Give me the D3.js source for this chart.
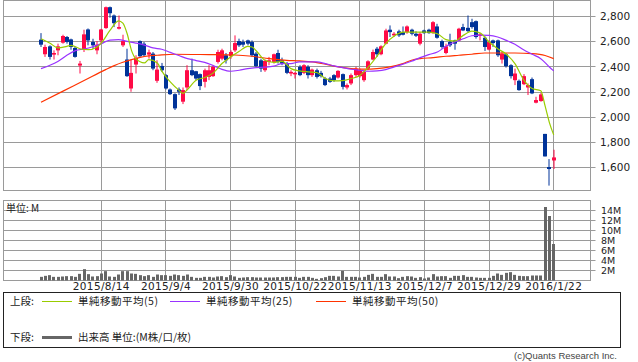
<!DOCTYPE html>
<html>
<head>
<meta charset="utf-8">
<script src="https://cdn.jsdelivr.net/npm/d3@7"></script>
<style>
  body { margin: 0; background: #fff; }
  svg text { font-family: "DejaVu Sans", sans-serif; fill: #222; }
  .jp { font-family: "Noto Sans CJK JP", sans-serif; }
</style>
</head>
<body>
<script>
// daily candles, 2015/7/27 .. 2016/1/22 (120 trading days)
var open = [2616,2500,2563,2497,2531,2592,2637,2618,2550,2410,2537,2697,2597,2531,2610,2708,2874,2808,2703,2571,
  2458,2228,2418,2605,2584,2497,2505,2289,2407,2334,2220,2183,2220,2123,2236,2373,2365,2342,2281,2320,
  2326,2439,2465,2492,2484,2531,2605,2597,2610,2597,2505,2452,2373,2439,2439,2510,2452,2421,2347,2342,
  2400,2352,2400,2334,2373,2352,2307,2307,2334,2315,2342,2236,2268,2334,2326,2294,2386,2458,2544,2500,
  2584,2695,2650,2682,2676,2676,2695,2663,2584,2689,2695,2668,2721,2605,2510,2597,2610,2610,2716,2710,
  2755,2763,2650,2631,2537,2610,2610,2458,2500,2413,2294,2289,2262,2236,2302,2115,2128,1867,1604,1656];
var high = [2668,2576,2571,2531,2584,2655,2645,2624,2563,2447,2695,2705,2623,2605,2702,2879,2879,2816,2808,2655,
  2544,2457,2492,2610,2597,2537,2518,2452,2431,2342,2228,2189,2236,2236,2413,2465,2368,2347,2386,2413,
  2413,2536,2544,2510,2531,2650,2624,2616,2616,2610,2518,2465,2458,2479,2505,2536,2473,2439,2373,2360,
  2413,2421,2413,2386,2386,2368,2320,2320,2342,2373,2347,2268,2347,2400,2386,2373,2452,2537,2558,2571,
  2703,2729,2676,2695,2721,2729,2703,2682,2676,2695,2703,2763,2742,2616,2584,2663,2616,2710,2742,2808,
  2782,2768,2668,2642,2610,2616,2616,2518,2510,2421,2386,2299,2342,2268,2315,2162,2194,1867,1667,1741];
var low = [2558,2479,2458,2458,2492,2584,2584,2536,2473,2347,2518,2571,2544,2500,2584,2702,2790,2716,2697,2558,
  2320,2202,2347,2479,2479,2465,2373,2273,2360,2220,2176,2057,2176,2104,2215,2326,2294,2215,2236,2294,
  2320,2426,2452,2426,2465,2518,2558,2558,2571,2479,2400,2360,2360,2413,2426,2426,2413,2342,2326,2307,
  2326,2342,2307,2320,2307,2315,2247,2273,2281,2307,2220,2220,2255,2320,2315,2281,2373,2452,2479,2492,
  2579,2637,2637,2637,2650,2663,2650,2637,2571,2663,2663,2663,2624,2544,2500,2558,2536,2605,2684,2676,
  2703,2624,2610,2526,2531,2558,2479,2426,2394,2307,2255,2210,2255,2176,2183,2110,2123,1688,1456,1588];
var close = [2576,2558,2479,2510,2563,2645,2597,2558,2479,2426,2658,2610,2571,2576,2697,2874,2826,2747,2716,2605,
  2326,2352,2471,2484,2492,2515,2386,2378,2373,2228,2183,2070,2202,2215,2373,2334,2307,2247,2373,2373,
  2400,2518,2531,2452,2518,2589,2571,2576,2584,2492,2405,2386,2447,2452,2500,2439,2426,2352,2360,2352,
  2334,2413,2334,2378,2320,2326,2255,2281,2294,2368,2241,2255,2334,2386,2373,2360,2444,2518,2500,2563,
  2689,2676,2663,2650,2655,2721,2663,2647,2663,2668,2668,2755,2631,2558,2563,2571,2584,2703,2689,2684,
  2716,2637,2658,2558,2597,2589,2492,2505,2405,2326,2347,2215,2326,2255,2189,2136,2181,1688,1588,1680];

// volume, millions
var volume = [0.73,0.93,1.07,0.73,0.73,0.8,0.87,0.87,0.73,1.33,2.27,1.27,0.8,0.87,1.4,1.87,0.8,0.73,1.2,1.87,
  1.87,1.4,1.33,1.07,0.87,1.07,0.73,1.2,1.07,1.07,0.93,1.2,1.07,0.93,1.2,0.73,0.53,0.53,0.73,0.73,
  0.6,0.8,0.87,0.67,1.07,0.8,0.53,0.6,0.67,0.67,0.6,0.6,0.6,0.6,0.6,0.67,0.67,0.73,0.73,0.73,
  0.53,0.73,0.73,0.53,0.33,0.47,0.67,0.93,0.93,0.8,1.93,0.73,0.73,0.73,0.6,0.73,1.13,1.33,0.73,0.73,
  1.27,0.8,0.8,0.47,0.73,0.87,0.8,0.53,0.67,0.4,0.6,1.27,0.8,0.87,0.87,0.53,0.93,0.93,1.07,0.73,
  0.73,0.6,0.53,0.53,0.53,0.93,1.4,1.13,1.53,1.67,1.13,0.93,0.87,0.87,1.0,1.0,1.0,14.7,12.9,7.3];

// moving averages: [day index, value]
var ma5 = [[0,2623],[2,2589],[4,2550],[6,2563],[7,2571],[9,2544],[11,2536],[13,2558],[14,2589],[16,2689],
  [18,2766],[19,2747],[20,2663],[21,2531],[22,2465],[24,2431],[25,2457],[27,2431],[28,2368],[30,2281],
  [32,2215],[33,2189],[34,2220],[36,2294],[38,2315],[40,2352],[42,2426],[44,2479],[46,2523],[48,2563],
  [49,2558],[50,2526],[52,2452],[54,2436],[56,2444],[58,2386],[60,2368],[62,2360],[64,2355],[66,2307],
  [68,2289],[70,2291],[72,2307],[74,2331],[76,2400],[78,2484],[80,2585],[82,2645],[84,2676],[86,2676],
  [88,2676],[90,2676],[92,2663],[94,2616],[96,2605],[98,2650],[100,2684],[102,2668],[104,2597],[106,2544],
  [108,2500],[110,2426],[112,2299],[114,2228],[116,2210],[117,2089],[118,1957],[119,1859]];
var ma25 = [[0,2386],[4,2445],[6,2492],[8,2529],[10,2542],[12,2560],[14,2584],[16,2613],[18,2616],[20,2602],
  [22,2589],[24,2573],[26,2550],[28,2540],[30,2515],[32,2490],[34,2465],[36,2450],[38,2435],[40,2410],
  [42,2380],[44,2365],[46,2373],[48,2386],[50,2394],[52,2397],[54,2405],[56,2426],[58,2426],[60,2439],
  [62,2439],[64,2439],[66,2426],[68,2407],[70,2394],[72,2381],[74,2373],[76,2365],[78,2368],[80,2378],
  [82,2400],[84,2421],[86,2444],[88,2473],[90,2497],[92,2518],[94,2563],[96,2597],[98,2623],[100,2647],
  [102,2652],[104,2650],[106,2637],[108,2610],[110,2579],[112,2536],[114,2500],[116,2465],[118,2399],[119,2368]];
var ma50 = [[0,2118],[5,2205],[10,2291],[15,2378],[17,2410],[19,2436],[21,2457],[23,2475],[25,2487],[27,2492],
  [31,2500],[39,2497],[45,2494],[49,2484],[53,2465],[57,2452],[60,2447],[63,2439],[66,2421],[69,2400],
  [72,2386],[75,2381],[78,2386],[81,2400],[84,2426],[86,2452],[88,2465],[91,2473],[94,2484],[97,2492],
  [100,2500],[103,2510],[110,2510],[114,2505],[117,2490],[119,2465]];

var dateTickIdx = [14, 29, 44, 59, 74, 89, 104, 119];
var dateLabels = ["2015/8/14", "2015/9/4", "2015/9/30", "2015/10/22", "2015/11/13", "2015/12/7", "2015/12/29", "2016/1/22"];
var priceTicks = [1600, 1800, 2000, 2200, 2400, 2600, 2800];
var volTicks = [2, 4, 6, 8, 10, 12, 14];

var upColor = "#ff0a46", downColor = "#003399", gridColor = "#9a9a9a";

var svg = d3.select("body").append("svg")
    .attr("width", 638)
    .attr("height", 362);

// frames
var left = 3.5, right = 590.5;
var top1 = 0.5, bot1 = 190.5, top2 = 200.5, bot2 = 280.5;

var x = d3.scaleLinear().domain([0, 119]).range([41, 553.7]);
var y = d3.scaleLinear().domain([1600, 2800]).range([167.5, 16.5]);
var yv = d3.scaleLinear().domain([0, 16]).range([bot2, top2]);

var snap = function (v) { return Math.round(v - 0.5) + 0.5; };

// grid lines for both panels
var grid = svg.append("g").attr("stroke", gridColor).attr("stroke-width", 1).attr("fill", "none");
grid.selectAll(".hp").data(priceTicks).enter().append("line")
    .attr("x1", left).attr("x2", right + 5)
    .attr("y1", function (d) { return snap(y(d)); })
    .attr("y2", function (d) { return snap(y(d)); });
grid.selectAll(".hv").data(volTicks).enter().append("line")
    .attr("x1", left).attr("x2", right + 5)
    .attr("y1", function (d) { return snap(yv(d)); })
    .attr("y2", function (d) { return snap(yv(d)); });
dateTickIdx.forEach(function (d) {
    grid.append("line").attr("x1", snap(x(d))).attr("x2", snap(x(d))).attr("y1", top1).attr("y2", bot1);
    grid.append("line").attr("x1", snap(x(d))).attr("x2", snap(x(d))).attr("y1", top2).attr("y2", bot2);
});
grid.append("rect").attr("x", left).attr("y", top1).attr("width", right - left).attr("height", bot1 - top1);
grid.append("rect").attr("x", left).attr("y", top2).attr("width", right - left).attr("height", bot2 - top2);

// price axis labels
svg.selectAll(".pl").data(priceTicks).enter().append("text")
    .attr("x", 600).attr("y", function (d) { return y(d); })
    .attr("dy", "0.36em")
    .style("font-size", "10.5px")
    .text(d3.format(","));

// volume axis labels
svg.selectAll(".vl").data(volTicks).enter().append("text")
    .attr("x", 601).attr("y", function (d) { return yv(d); })
    .attr("dy", "0.36em")
    .style("font-size", "9.5px")
    .text(function (d) { return d + "M"; });

// date labels
svg.selectAll(".dl").data(dateTickIdx).enter().append("text")
    .attr("x", function (d) { return x(d); })
    .attr("y", 290)
    .attr("text-anchor", "middle")
    .style("font-size", "10.5px")
    .style("letter-spacing", "0.35px")
    .text(function (d, i) { return dateLabels[i]; });

svg.append("text").attr("class", "jp")
    .attr("x", 6).attr("y", 212)
    .style("font-size", "10px")
    .text("単位: M");

// volume bars
var bw = 3;
svg.append("g").selectAll("rect").data(volume).enter().append("rect")
    .attr("x", function (d, i) { return Math.round(x(i) - bw / 2); })
    .attr("y", function (d) { return yv(d); })
    .attr("width", bw)
    .attr("height", function (d) { return bot2 - yv(d); })
    .attr("fill", "#666");

// candles
var candles = svg.append("g");
open.forEach(function (o, i) {
    var c = close[i];
    var col = c >= o ? upColor : downColor;
    var cx = Math.round(x(i));
    candles.append("line")
        .attr("x1", cx).attr("x2", cx)
        .attr("y1", y(high[i])).attr("y2", y(low[i]))
        .attr("stroke", col).attr("stroke-width", 1);
    var t = y(Math.max(o, c)), b = y(Math.min(o, c));
    candles.append("rect")
        .attr("x", cx - 2).attr("y", t)
        .attr("width", bw + 1).attr("height", Math.max(1.5, b - t))
        .attr("fill", col);
});

// moving averages
var line = d3.line()
    .x(function (d) { return x(d[0]); })
    .y(function (d) { return y(d[1]); })
    .curve(d3.curveMonotoneX);
svg.append("path").datum(ma50).attr("d", line).attr("fill", "none").attr("stroke", "#ff3300").attr("stroke-width", 1.2);
svg.append("path").datum(ma25).attr("d", line).attr("fill", "none").attr("stroke", "#9933ff").attr("stroke-width", 1.2);
svg.append("path").datum(ma5).attr("d", line).attr("fill", "none").attr("stroke", "#99cc00").attr("stroke-width", 1.2);

// legend
var lg = svg.append("g");
lg.append("rect").attr("x", 3.5).attr("y", 292.5).attr("width", 617).attr("height", 55)
    .attr("fill", "none").attr("stroke", "#222");
var leg1 = [
    { x: 42, color: "#99cc00", label: "単純移動平均(5)" },
    { x: 170, color: "#9933ff", label: "単純移動平均(25)" },
    { x: 316, color: "#ff3300", label: "単純移動平均(50)" }
];
lg.append("text").attr("class", "jp").attr("x", 10).attr("y", 305).style("font-size", "10.5px").text("上段:");
leg1.forEach(function (d) {
    lg.append("line").attr("x1", d.x).attr("x2", d.x + 30).attr("y1", 301.5).attr("y2", 301.5)
        .attr("stroke", d.color).attr("stroke-width", 1);
    lg.append("text").attr("class", "jp").attr("x", d.x + 36).attr("y", 305)
        .style("font-size", "10.5px").style("letter-spacing", "0.5px").text(d.label);
});
lg.append("text").attr("class", "jp").attr("x", 10).attr("y", 341).style("font-size", "10.5px").text("下段:");
lg.append("line").attr("x1", 42).attr("x2", 72).attr("y1", 337.5).attr("y2", 337.5)
    .attr("stroke", "#666").attr("stroke-width", 3);
lg.append("text").attr("class", "jp").attr("x", 78).attr("y", 341)
    .style("font-size", "10.5px").text("出来高 単位:(M株/口/枚)");

svg.append("text")
    .attr("x", 617).attr("y", 359)
    .attr("text-anchor", "end")
    .style("font-family", "'Liberation Sans', sans-serif")
    .style("font-size", "9.5px")
    .style("fill", "#444")
    .text("(c)Quants Research Inc.");
</script>
</body>
</html>
